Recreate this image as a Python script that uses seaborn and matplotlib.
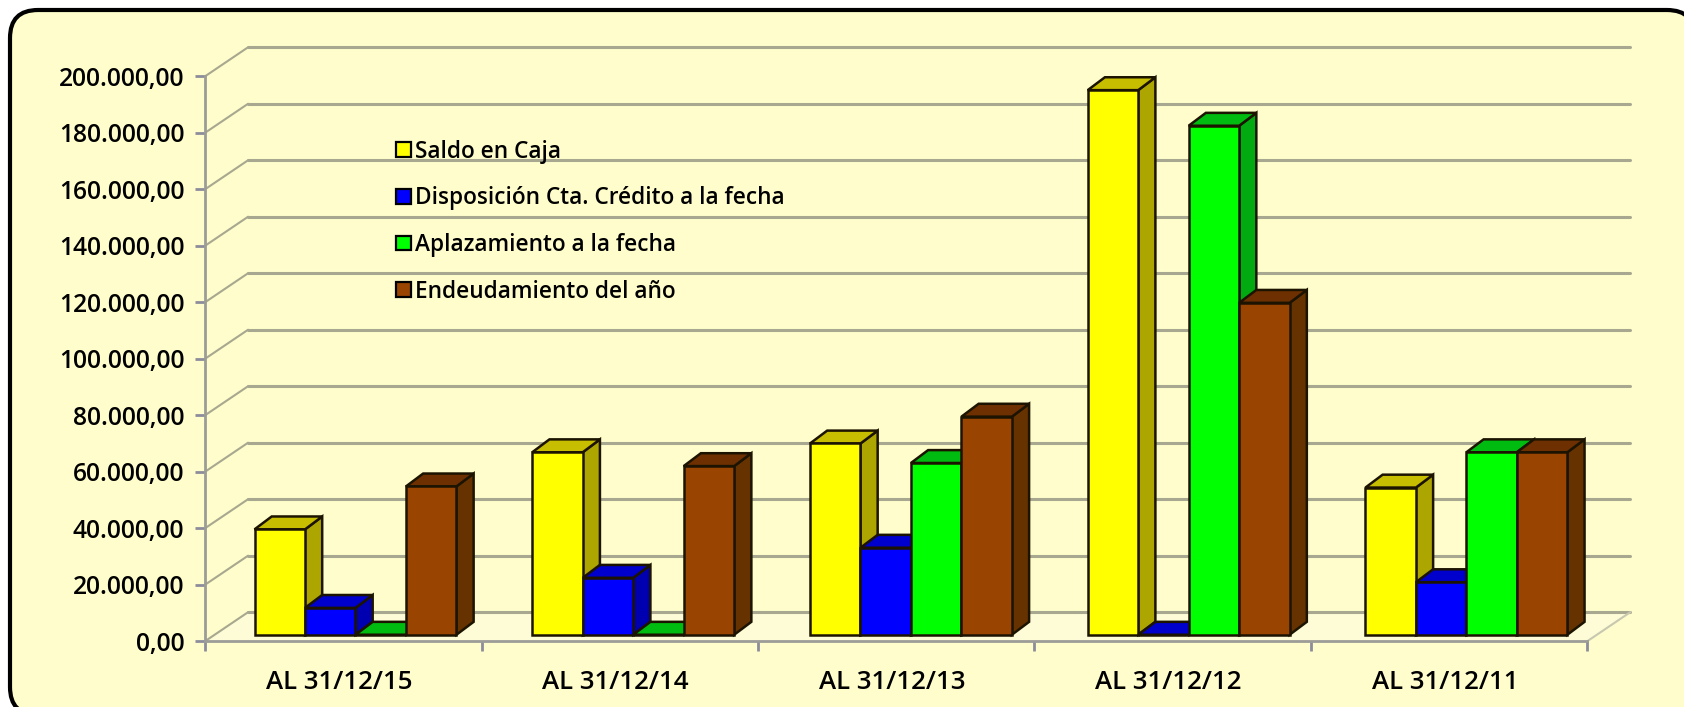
import pandas as pd
import matplotlib
matplotlib.use("Agg")
import matplotlib.pyplot as plt
import seaborn as sns
from matplotlib.patches import FancyBboxPatch, Patch, Polygon

# Data
periodos = ["AL 31/12/15", "AL 31/12/14", "AL 31/12/13", "AL 31/12/12", "AL 31/12/11"]
series = ["Saldo en Caja", "Disposición Cta. Crédito a la fecha", "Aplazamiento a la fecha", "Endeudamiento del año"]
saldo = [37300, 64600, 67700, 192800, 52100]
disposicion = [9500, 20150, 30800, 0, 18600]
aplazamiento = [0, 0, 60800, 180200, 64600]
endeudamiento = [52500, 59700, 77200, 117500, 64600]
y_ticks = [0, 20000, 40000, 60000, 80000, 100000, 120000, 140000, 160000, 180000, 200000]
y_labels = ["0,00", "20.000,00", "40.000,00", "60.000,00", "80.000,00", "100.000,00",
            "120.000,00", "140.000,00", "160.000,00", "180.000,00", "200.000,00"]

# colours per series: front, top, side
frente = ["#FFFF00", "#0000FF", "#00FF00", "#994400"]
arriba = ["#C8BE00", "#0000CC", "#00BB10", "#6E3000"]
lado = ["#ADA500", "#0000B0", "#00AA10", "#663300"]
fondo = "#FEFDCB"
gris = "#A8A890"
borde = "#1C1400"

sns.set_theme(style="white")
plt.rcParams["font.family"] = ["Open Sans", "DejaVu Sans"]

W, H = 1684, 707
S = W / 1568  # layout measured on the 1568 wide view


def caja(izq, arr, der, aba):
    return [izq * S / W, 1 - aba * S / H, (der - izq) * S / W, (aba - arr) * S / H]


df = pd.DataFrame({"periodo": periodos, series[0]: saldo, series[1]: disposicion,
                   series[2]: aplazamiento, series[3]: endeudamiento})
df = df.melt(id_vars="periodo", var_name="serie", value_name="valor")

fig = plt.figure(figsize=(W / 100, H / 100), dpi=100, facecolor="white")

# rounded panel, runs off the right and bottom edges
panel = fig.add_axes([0, 0, 1, 1], zorder=0)
panel.set_xlim(0, W)
panel.set_ylim(H, 0)
panel.axis("off")
panel.add_patch(FancyBboxPatch((10, 10), 1685, 705, boxstyle="round,pad=0,rounding_size=28",
                               facecolor=fondo, edgecolor="black", linewidth=3))

# axes and the walls behind the bars
ax = fig.add_axes(caja(191, 71, 1478, 597), zorder=1)
ax.patch.set_alpha(0)
ax.set_xlim(0, 5)
ax.set_ylim(0, 200000)
fx = 40 / 257.4
fy = 27 / 526 * 200000
ax.fill([0, fx, 5 + fx, 5], [0, fy, fy, 0], color="#FDFCD6", lw=0, clip_on=False, zorder=0.5)
for v in y_ticks:
    ax.plot([0, fx], [v, v + fy], color=gris, lw=1.5, clip_on=False, zorder=1)
    ax.plot([fx, 5 + fx], [v + fy, v + fy], color=gris, lw=2.2, clip_on=False, zorder=1)
ax.plot([5, 5 + fx], [0, fy], color="#C8C8B0", lw=1.5, clip_on=False, zorder=1)
for lado_eje in ["top", "right"]:
    ax.spines[lado_eje].set_visible(False)
for lado_eje in ["left", "bottom"]:
    ax.spines[lado_eje].set_color("#9C9C98")
    ax.spines[lado_eje].set_linewidth(2)
ax.set_yticks(y_ticks, y_labels, fontsize=17.7, fontweight=600, color="black")
ax.set_xticks(range(6), [""] * 6)
ax.set_xticks([i + 0.485 for i in range(5)], periodos, minor=True, fontsize=18.6, fontweight=600, color="black")
ax.tick_params(axis="y", left=True, length=7, width=2, color="#8C8C9C", pad=8)
ax.tick_params(axis="x", which="major", bottom=True, length=7, width=2, color="#8C8C9C")
ax.tick_params(axis="x", which="minor", bottom=False, length=0, pad=21)

# bars sit a little in from the front of the floor
ab = fig.add_axes(caja(201.7, 65, 1494.7, 591), zorder=2)
ab.patch.set_alpha(0)
sns.barplot(data=df, x="periodo", y="valor", hue="serie", order=periodos, hue_order=series,
            palette=frente, width=0.727, gap=0, saturation=1, edgecolor=borde, linewidth=1.8,
            legend=False, ax=ab)
ab.set_xlim(-0.5, 4.5)
ab.set_ylim(0, 200000)
ab.axis("off")

px = 16 / 258.6
py = 12 / 526 * 200000
barras = [p for p in ab.patches if p.get_width() > 0]
barras = [(p, i // len(periodos)) for i, p in enumerate(barras)]
barras.sort(key=lambda b: b[0].get_x())
for n, (p, s) in enumerate(barras):
    x0, x1 = p.get_x(), p.get_x() + p.get_width()
    alto = p.get_height()
    z = 3 + n
    p.set_zorder(z + 0.2)
    p.set_clip_on(False)
    ab.add_patch(Polygon([(x1, 0), (x1 + px, py), (x1 + px, alto + py), (x1, alto)], closed=True,
                         facecolor=lado[s], edgecolor=borde, lw=1.8, zorder=z, clip_on=False))
    ab.add_patch(Polygon([(x0, alto), (x0 + px, alto + py), (x1 + px, alto + py), (x1, alto)], closed=True,
                         facecolor=arriba[s], edgecolor=borde, lw=1.8, zorder=z + 0.1, clip_on=False))

# legend
handles = [Patch(facecolor=c, edgecolor="black", linewidth=1.6, label=l) for c, l in zip(frente, series)]
leg = fig.legend(handles=handles, loc="upper left", bbox_to_anchor=(369 * S / W, 1 - 130 * S / H),
                 frameon=False, prop={"size": 16.3, "weight": 600}, labelspacing=1.0,
                 labelcolor="black", handlelength=0.63, handleheight=0.63, handletextpad=0.2,
                 borderpad=0, borderaxespad=0)
leg.set_zorder(5)

fig.savefig("out.png", dpi=100)
